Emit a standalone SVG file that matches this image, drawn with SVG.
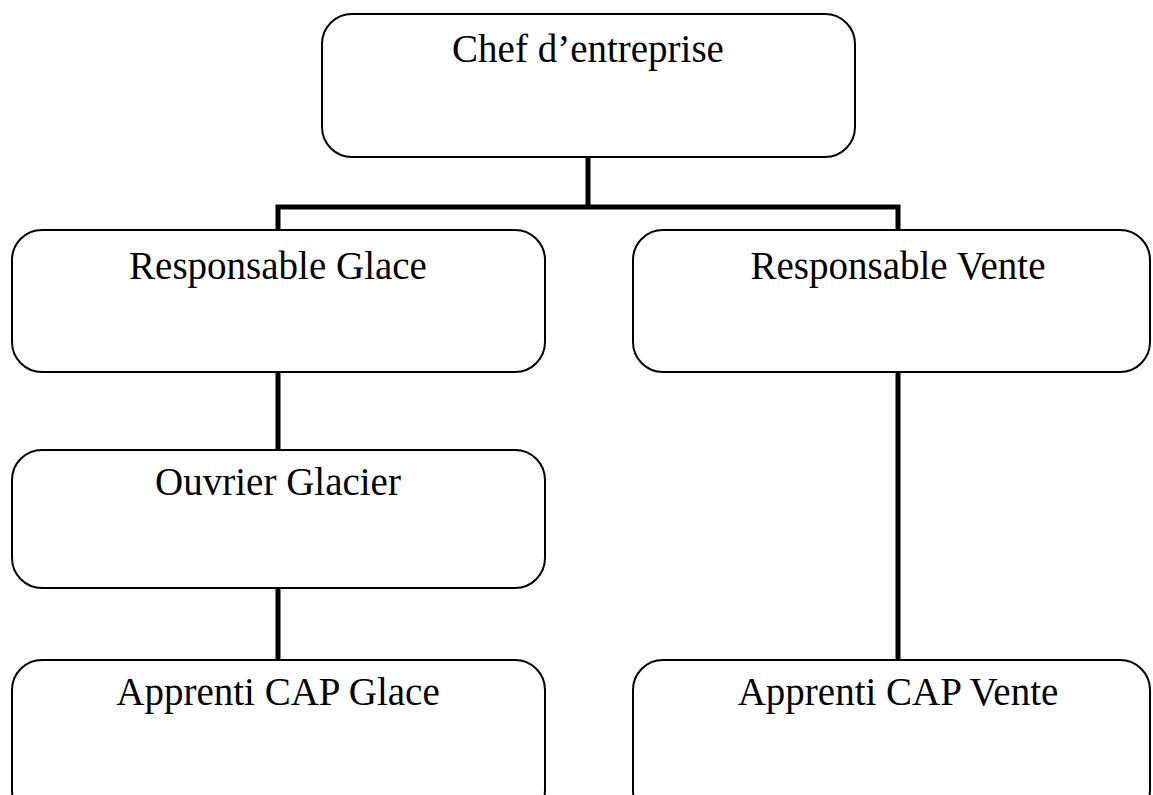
<svg xmlns="http://www.w3.org/2000/svg" width="1153" height="795" viewBox="0 0 1153 795">
<style>
.box{fill:#fff;stroke:#000;stroke-width:2}
.lbl{font-family:"Liberation Serif","Times New Roman",serif;font-size:39px;fill:#000;text-anchor:middle}
.conn{fill:none;stroke:#000;stroke-width:5}
</style>
<rect width="1153" height="795" fill="#fff"/>
<g id="connectors">
<path class="conn" d="M588 157 V207 M278 230 V207 H898 V230"/>
<path class="conn" d="M278 372 V450"/>
<path class="conn" d="M278 588 V660"/>
<path class="conn" d="M898 372 V660"/>
</g>
<g id="chef"><rect class="box" x="322" y="14" width="533" height="143" rx="30"/><text class="lbl" x="588" y="62">Chef d’entreprise</text></g>
<g id="resp-glace"><rect class="box" x="12" y="230" width="533" height="142" rx="30"/><text class="lbl" x="278" y="279">Responsable Glace</text></g>
<g id="resp-vente"><rect class="box" x="633" y="230" width="517" height="142" rx="30"/><text class="lbl" x="898" y="279">Responsable Vente</text></g>
<g id="ouvrier"><rect class="box" x="12" y="450" width="533" height="138" rx="30"/><text class="lbl" x="278" y="495">Ouvrier Glacier</text></g>
<g id="apprenti-glace"><rect class="box" x="12" y="660" width="533" height="160" rx="30"/><text class="lbl" x="278" y="705">Apprenti CAP Glace</text></g>
<g id="apprenti-vente"><rect class="box" x="633" y="660" width="517" height="160" rx="30"/><text class="lbl" x="898" y="705">Apprenti CAP Vente</text></g>
</svg>
